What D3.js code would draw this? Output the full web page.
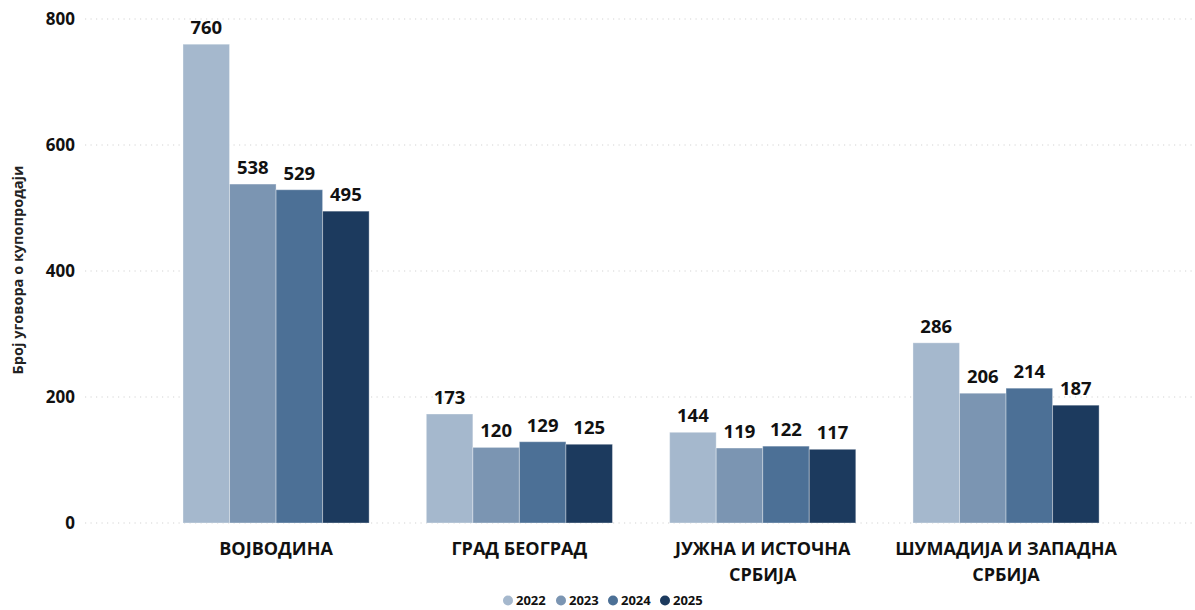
<!DOCTYPE html>
<html>
<head>
<meta charset="utf-8">
<script src="https://cdn.jsdelivr.net/npm/d3@7"></script>
<style>
  html, body { margin: 0; padding: 0; background: #fff; }
  svg { display: block; font-family: "Open Sans", "DejaVu Sans", sans-serif; }
</style>
</head>
<body>
<svg id="chart" width="1195" height="610"></svg>
<script>
const categories = [
  ["ВОЈВОДИНА"],
  ["ГРАД БЕОГРАД"],
  ["ЈУЖНА И ИСТОЧНА", "СРБИЈА"],
  ["ШУМАДИЈА И ЗАПАДНА", "СРБИЈА"]
];
const years = ["2022", "2023", "2024", "2025"];
const values2022 = [760, 173, 144, 286];
const values2023 = [538, 120, 119, 206];
const values2024 = [529, 129, 122, 214];
const values2025 = [495, 125, 117, 187];
const yTicks = [0, 200, 400, 600, 800];
const colors = ["#a5b8cd", "#7b95b2", "#4c7096", "#1c3a5e"];
const yTitle = "Број уговора о купопродаји";

const series = [values2022, values2023, values2024, values2025];
const svg = d3.select("#chart");

const y = d3.scaleLinear().domain([0, 800]).range([523, 19]);
const x0 = d3.scaleBand().domain(d3.range(categories.length)).range([154.4, 1127.7])
  .paddingInner(0.235).paddingOuter(0.1175);
const x1 = d3.scaleBand().domain(years).range([0, x0.bandwidth()]);

// gridlines
svg.append("g").selectAll("line").data(yTicks).join("line")
  .attr("x1", 85).attr("x2", 1192)
  .attr("y1", d => y(d)).attr("y2", d => y(d))
  .attr("stroke", "#d4d4d4").attr("stroke-width", 1.2)
  .attr("stroke-dasharray", "1.2,4.3");

// y axis labels
const yAxis = d3.axisLeft(y).tickValues(yTicks).tickSize(0).tickPadding(0);
const gy = svg.append("g").attr("transform", "translate(75,0)").call(yAxis);
gy.select(".domain").remove();
gy.selectAll("text").attr("font-size", 17).attr("font-weight", 700)
  .attr("fill", "#111").attr("font-family", "'Open Sans', sans-serif");

// y title
svg.append("text")
  .attr("transform", "translate(23,270) rotate(-90)")
  .attr("text-anchor", "middle")
  .attr("font-size", 14.5).attr("font-weight", 700).attr("fill", "#222")
  .text(yTitle);

// bars
const groups = svg.append("g").selectAll("g").data(categories.map((c, i) => i)).join("g")
  .attr("transform", i => `translate(${x0(i)},0)`);

groups.selectAll("rect").data(i => years.map((yr, k) => ({ yr, k, v: series[k][i] }))).join("rect")
  .attr("x", d => x1(d.yr))
  .attr("y", d => y(d.v))
  .attr("width", x1.bandwidth())
  .attr("height", d => y(0) - y(d.v))
  .attr("fill", d => colors[d.k])
  .attr("stroke", "rgba(255,255,255,0.35)").attr("stroke-width", 1);

groups.selectAll("text.val").data(i => years.map((yr, k) => ({ yr, k, v: series[k][i] }))).join("text")
  .attr("class", "val")
  .attr("x", d => x1(d.yr) + x1.bandwidth() / 2)
  .attr("y", d => y(d.v) - 10)
  .attr("text-anchor", "middle")
  .attr("font-size", 18.5).attr("font-weight", 700).attr("fill", "#111")
  .text(d => d.v);

// category labels
const cl = svg.append("g").selectAll("text").data(categories.map((c, i) => ({ c, i }))).join("text")
  .attr("x", d => x0(d.i) + x0.bandwidth() / 2)
  .attr("y", 555)
  .attr("text-anchor", "middle")
  .attr("font-size", 18).attr("font-weight", 700).attr("fill", "#111");
cl.selectAll("tspan").data(d => d.c.map(line => ({ line, x: x0(d.i) + x0.bandwidth() / 2 }))).join("tspan")
  .attr("x", d => d.x)
  .attr("dy", (d, j) => j === 0 ? 0 : 26)
  .text(d => d.line);

// legend
const legend = svg.append("g");
const legX = [508, 561, 613, 665];
years.forEach((yr, k) => {
  const g = legend.append("g").attr("transform", `translate(${legX[k]},600.5)`);
  g.append("circle").attr("cx", 0).attr("cy", 0).attr("r", 5).attr("fill", colors[k]);
  g.append("text").attr("x", 8).attr("y", 4.5).attr("font-size", 13).attr("font-weight", 700)
    .attr("fill", "#111").text(yr);
});
</script>
</body>
</html>
